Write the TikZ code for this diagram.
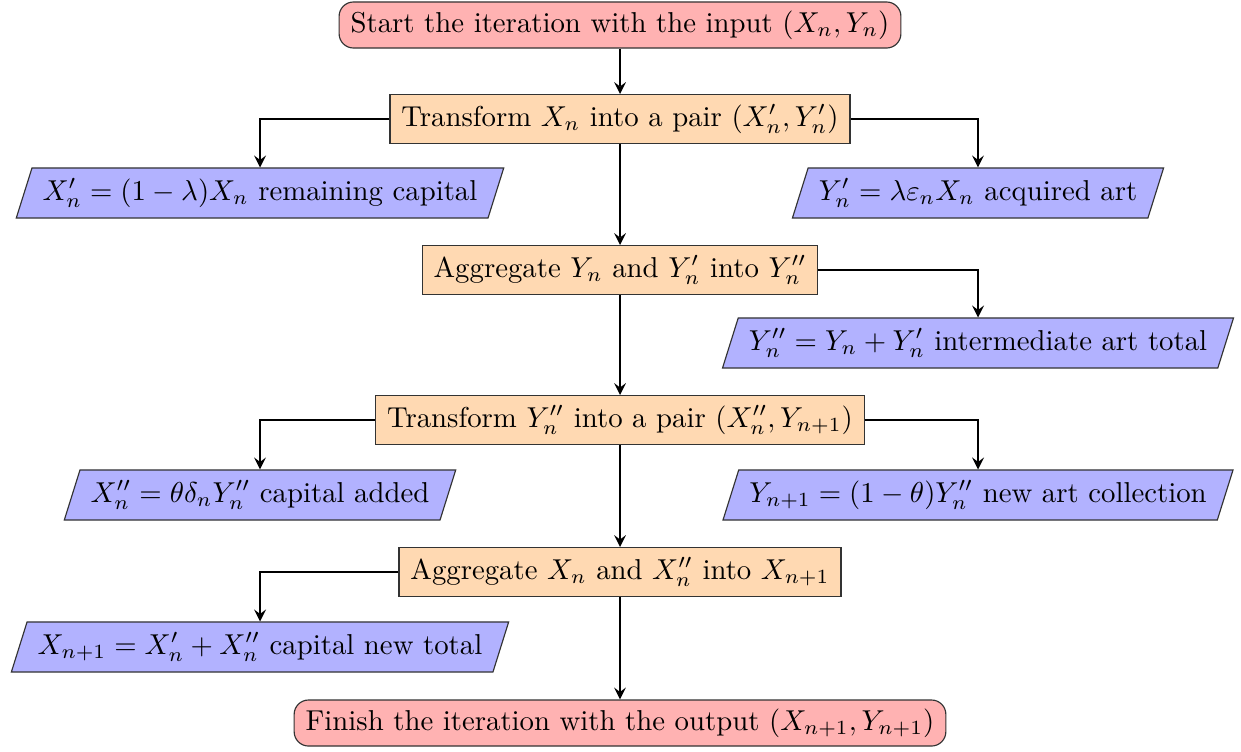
\documentclass[tikz,border=0pt]{standalone}
\usetikzlibrary{shapes.geometric,arrows}
\begin{document}
\begin{tikzpicture}[x=0.3476pt,y=-0.3476pt,
  startstop/.style={rectangle, rounded corners=5pt, draw=black!80, fill=red!30, minimum height=16pt, inner xsep=4pt, inner ysep=2.5pt},
  process/.style={rectangle, draw=black!80, fill=orange!30, minimum height=17pt, inner xsep=4pt, inner ysep=2.5pt},
  io/.style={trapezium, trapezium left angle=70, trapezium right angle=110, draw=black!80, fill=blue!30, minimum height=17.4pt, inner xsep=3.7pt, inner ysep=2.5pt, trapezium stretches body},
  arr/.style={thick, -stealth}]
\useasboundingbox (0,0) rectangle (1241,751);
\node[startstop] (start) at (620,25) {Start the iteration with the input $(X_n,Y_n)$};
\node[process] (t1) at (620,119) {Transform $X_n$ into a pair $(X_n',Y_n')$};
\node[io] (lp1) at (260,193) {$X_n'=(1-\lambda)X_n$ remaining capital};
\node[io] (rp1) at (978,193) {$Y_n'=\lambda\varepsilon_nX_n$ acquired art};
\node[process] (a1) at (620,270) {Aggregate $Y_n$ and $Y_n'$ into $Y_n''$};
\node[io] (rp2) at (978,343) {$Y_n''=Y_n+Y_n'$ intermediate art total};
\node[process] (t2) at (620,420) {Transform $Y_n''$ into a pair $(X_n'',Y_{n+1})$};
\node[io] (lp3) at (260,495) {$X_n''=\theta\delta_nY_n''$ capital added};
\node[io] (rp3) at (978,495) {$Y_{n+1}=(1-\theta)Y_n''$ new art collection};
\node[process] (a2) at (620,572) {Aggregate $X_n$ and $X_n''$ into $X_{n+1}$};
\node[io] (lp4) at (260,647) {$X_{n+1}=X_n'+X_n''$ capital new total};
\node[startstop] (finish) at (620,723) {Finish the iteration with the output $(X_{n+1},Y_{n+1})$};
\draw[arr] (start) -- (t1);
\draw[arr] (t1) -- (a1);
\draw[arr] (a1) -- (t2);
\draw[arr] (t2) -- (a2);
\draw[arr] (a2) -- (finish);
\draw[arr] (t1.west) -| (lp1.north);
\draw[arr] (t1.east) -| (rp1.north);
\draw[arr] (a1.east) -| (rp2.north);
\draw[arr] (t2.west) -| (lp3.north);
\draw[arr] (t2.east) -| (rp3.north);
\draw[arr] (a2.west) -| (lp4.north);
\end{tikzpicture}
\end{document}
